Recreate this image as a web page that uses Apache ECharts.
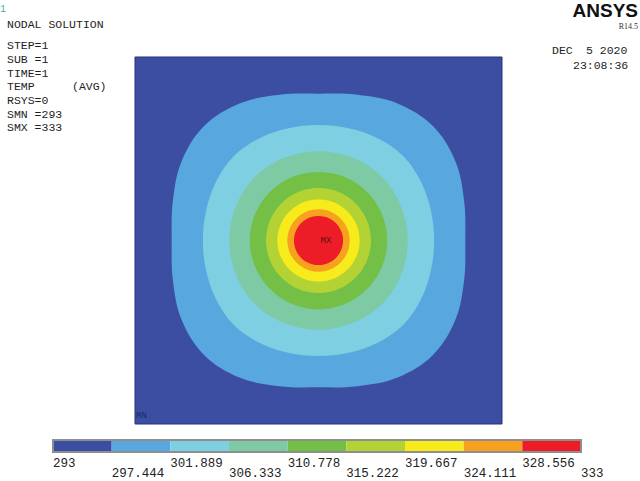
<!DOCTYPE html>
<html>
<head>
<meta charset="utf-8">
<script src="https://cdn.jsdelivr.net/npm/echarts@6/dist/echarts.min.js"></script>
<style>
html,body{margin:0;padding:0;background:#ffffff;}
#chart{width:640px;height:481px;}
</style>
</head>
<body>
<div id="chart"></div>
<script>
// ---- contour levels (colour bar) ----
const levels = [293, 297.444, 301.889, 306.333, 310.778, 315.222, 319.667, 324.111, 328.556, 333];
const levelLabels = ['293', '297.444', '301.889', '306.333', '310.778', '315.222', '319.667', '324.111', '328.556', '333'];
const bandColors = ['#3C4EA1', '#58A8DF', '#7ECFE1', '#7DCAA4', '#74BF45', '#B3D334', '#F8EB1C', '#F6A21F', '#EC1D26'];

// ---- isotherm boundaries ----
// plate spans 0..1 in x and y; radius of each isotherm (fraction of plate width)
// measured at these directions from the hot spot
const angles = [0, 15, 30, 45, 60, 75, 90, 105, 120, 135, 150, 165, 180, 195, 210, 225, 240, 255, 270, 285, 300, 315, 330, 345];
const hotSpot = [0.5, 0.5];
const iso297 = [0.400, 0.411, 0.431, 0.441, 0.431, 0.411, 0.400, 0.411, 0.431, 0.441, 0.431, 0.411, 0.400, 0.411, 0.431, 0.441, 0.431, 0.411, 0.400, 0.411, 0.431, 0.441, 0.431, 0.411];
const iso301 = [0.315, 0.317, 0.322, 0.326, 0.322, 0.317, 0.315, 0.317, 0.322, 0.326, 0.322, 0.317, 0.315, 0.317, 0.322, 0.326, 0.322, 0.317, 0.315, 0.317, 0.322, 0.326, 0.322, 0.317];
const iso306 = [0.243, 0.243, 0.244, 0.245, 0.244, 0.243, 0.243, 0.243, 0.244, 0.245, 0.244, 0.243, 0.243, 0.243, 0.244, 0.245, 0.244, 0.243, 0.243, 0.243, 0.244, 0.245, 0.244, 0.243];
const iso310 = [0.187, 0.187, 0.187, 0.187, 0.187, 0.187, 0.186, 0.187, 0.187, 0.187, 0.187, 0.187, 0.187, 0.187, 0.187, 0.187, 0.187, 0.187, 0.188, 0.187, 0.187, 0.187, 0.187, 0.187];
const iso315 = [0.143, 0.143, 0.143, 0.143, 0.143, 0.143, 0.143, 0.143, 0.143, 0.143, 0.143, 0.143, 0.143, 0.143, 0.143, 0.143, 0.143, 0.143, 0.143, 0.143, 0.143, 0.143, 0.143, 0.143];
const iso319 = [0.112, 0.112, 0.112, 0.112, 0.112, 0.112, 0.112, 0.112, 0.112, 0.112, 0.112, 0.112, 0.112, 0.112, 0.112, 0.112, 0.112, 0.112, 0.112, 0.112, 0.112, 0.112, 0.112, 0.112];
const iso324 = [0.085, 0.085, 0.085, 0.085, 0.085, 0.085, 0.085, 0.085, 0.085, 0.085, 0.085, 0.085, 0.085, 0.085, 0.085, 0.085, 0.085, 0.085, 0.085, 0.085, 0.085, 0.085, 0.085, 0.085];
const iso328 = [0.067, 0.067, 0.067, 0.067, 0.067, 0.067, 0.067, 0.067, 0.067, 0.067, 0.067, 0.067, 0.067, 0.067, 0.067, 0.067, 0.067, 0.067, 0.067, 0.067, 0.067, 0.067, 0.067, 0.067];
const isotherms = [iso297, iso301, iso306, iso310, iso315, iso319, iso324, iso328];
const isoValues = [297.444, 301.889, 306.333, 310.778, 315.222, 319.667, 324.111, 328.556];

// ---- header texts ----
const leftNotes = ['NODAL SOLUTION', 'STEP=1', 'SUB =1', 'TIME=1', 'TEMP', 'RSYS=0', 'SMN =293', 'SMX =333'];

const mono = '"Liberation Mono", "DejaVu Sans Mono", monospace';
const chart = echarts.init(document.getElementById('chart'), null, {renderer: 'svg'});

function renderIso(params, api) {
  const k = params.dataIndex;
  const r = isotherms[k];
  const pts = angles.map(function (a, j) {
    const t = a * Math.PI / 180;
    return api.coord([hotSpot[0] + r[j] * Math.cos(t), hotSpot[1] + r[j] * Math.sin(t)]);
  });
  return {type: 'polygon', shape: {points: pts, smooth: 0.35}, style: {fill: bandColors[k + 1]}};
}

function renderBar(params, api) {
  const i = params.dataIndex;
  if (i < levels.length - 1) {
    const p0 = api.coord([levels[i], 1]);
    const p1 = api.coord([levels[i + 1], 0]);
    return {type: 'rect', shape: {x: p0[0], y: p0[1], width: p1[0] - p0[0], height: p1[1] - p0[1]}, style: {fill: bandColors[i]}};
  }
  const q0 = api.coord([levels[0], 1]);
  const q1 = api.coord([levels[levels.length - 1], 0]);
  return {type: 'rect', shape: {x: q0[0], y: q0[1], width: q1[0] - q0[0], height: q1[1] - q0[1]},
    style: {fill: 'none', stroke: '#8e8e8e', lineWidth: 2}};
}

function renderLabels(params, api) {
  const i = params.dataIndex;
  const p = api.coord([levels[i], 0]);
  const lower = i % 2 === 1;
  return {type: 'text', x: p[0], y: lower ? p[1] + 28.5 : p[1] + 12,
    style: {text: levelLabels[i], fill: '#222', font: '12.5px ' + mono, align: 'left',
      verticalAlign: lower ? 'bottom' : 'middle'}};
}

const graphics = [];
graphics.push({type: 'text', left: 0, top: 4, style: {text: '1', fill: '#3fb3ad', font: '10px ' + mono}});
const noteY = [24, 45.7, 59.4, 73, 86.7, 100.4, 114, 127.7];
leftNotes.forEach(function (t, i) {
  graphics.push({type: 'text', x: 7, y: noteY[i], style: {text: t, fill: '#1e1e1e', font: '11.5px ' + mono, verticalAlign: 'middle'}});
});
graphics.push({type: 'text', x: 72, y: 86.7, style: {text: '(AVG)', fill: '#1e1e1e', font: '11.5px ' + mono, verticalAlign: 'middle'}});
graphics.push({type: 'text', x: 638, y: 10, style: {text: 'ANSYS', fill: '#111', font: 'bold 19px "Liberation Sans", Arial, sans-serif', align: 'right', verticalAlign: 'middle'}});
graphics.push({type: 'text', x: 638, y: 26, style: {text: 'R14.5', fill: '#333', font: '8px "Liberation Serif", serif', align: 'right', verticalAlign: 'middle'}});
graphics.push({type: 'text', x: 552, y: 50.5, style: {text: 'DEC', fill: '#1e1e1e', font: '11.5px ' + mono, verticalAlign: 'middle'}});
graphics.push({type: 'text', x: 586, y: 50.5, style: {text: '5 2020', fill: '#1e1e1e', font: '11.5px ' + mono, verticalAlign: 'middle'}});
graphics.push({type: 'text', x: 573, y: 65.5, style: {text: '23:08:36', fill: '#1e1e1e', font: '11.5px ' + mono, verticalAlign: 'middle'}});

chart.setOption({
  animation: false,
  backgroundColor: '#ffffff',
  graphic: graphics,
  grid: [
    {left: 135, top: 57, width: 367, height: 367, show: true, backgroundColor: bandColors[0], borderColor: '#27317a', borderWidth: 1},
    {left: 53, top: 440, width: 528, height: 12}
  ],
  xAxis: [
    {gridIndex: 0, type: 'value', min: 0, max: 1, show: false},
    {gridIndex: 1, type: 'value', min: 293, max: 333, show: false}
  ],
  yAxis: [
    {gridIndex: 0, type: 'value', min: 0, max: 1, show: false},
    {gridIndex: 1, type: 'value', min: 0, max: 1, show: false}
  ],
  series: [
    {type: 'custom', xAxisIndex: 0, yAxisIndex: 0, renderItem: renderIso, silent: true,
      data: isoValues.map(function (v) { return [hotSpot[0], hotSpot[1], v]; })},
    {type: 'scatter', xAxisIndex: 0, yAxisIndex: 0, symbolSize: 0, silent: true,
      data: [[hotSpot[0], hotSpot[1]]],
      label: {show: true, formatter: 'MX', position: 'right', distance: 2, color: '#3a0b0b', fontSize: 9, fontFamily: mono}},
    {type: 'scatter', xAxisIndex: 0, yAxisIndex: 0, symbolSize: 0, silent: true,
      data: [[0, 0]],
      label: {show: true, formatter: 'MN', position: 'right', distance: 1, offset: [0, -8], color: '#141c5a', fontSize: 9, fontFamily: mono}},
    {type: 'custom', xAxisIndex: 1, yAxisIndex: 1, renderItem: renderBar, silent: true, clip: false,
      data: levels.map(function (v) { return [v, 0.5]; })},
    {type: 'custom', xAxisIndex: 1, yAxisIndex: 1, renderItem: renderLabels, silent: true, clip: false,
      data: levels.map(function (v) { return [v, 0]; })}
  ]
});
</script>
</body>
</html>
